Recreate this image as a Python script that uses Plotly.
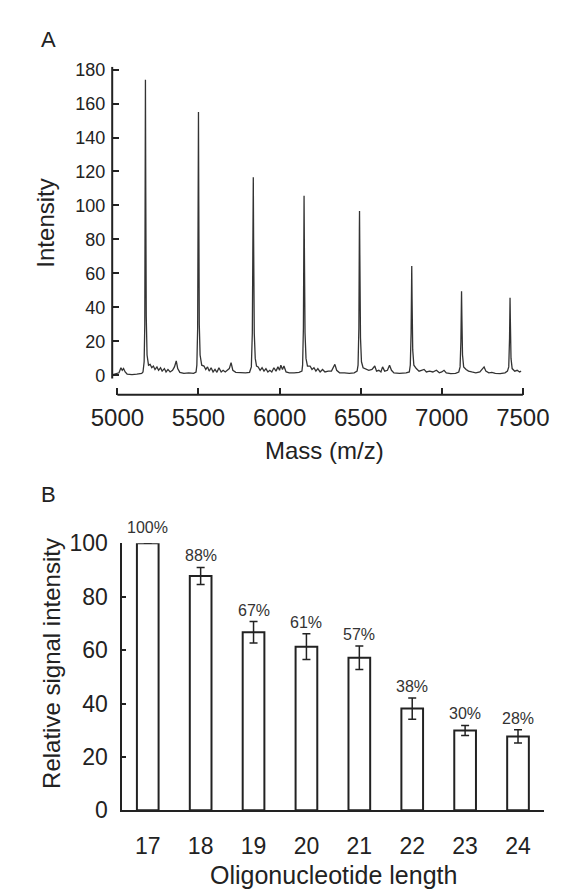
import plotly.graph_objects as go

W, H = 563, 894

# ---- panel A: MALDI spectrum ----
mass = [
    4972, 4990, 5010, 5022, 5030, 5038, 5048, 5060, 5090, 5120, 5150,
    5158, 5165, 5169, 5172, 5173, 5175, 5178, 5183, 5192,
    5202, 5212, 5222, 5232, 5244, 5254, 5266, 5276, 5290, 5300, 5312, 5325,
    5340, 5352, 5363, 5372, 5385, 5410, 5440, 5470, 5485,
    5490, 5495, 5498, 5500, 5502, 5505, 5510, 5520,
    5534, 5545, 5556, 5566, 5578, 5590, 5602, 5614, 5626, 5640, 5652, 5665,
    5690, 5701, 5712, 5730, 5760, 5790, 5815,
    5826, 5832, 5836, 5838, 5840, 5844, 5850, 5858,
    5868, 5880, 5892, 5904, 5916, 5928, 5940, 5952, 5965, 5978, 5990, 6000,
    6008, 6018, 6027, 6040, 6060, 6090, 6120, 6138,
    6142, 6147, 6150, 6151, 6153, 6157, 6163, 6172,
    6188, 6200, 6212, 6224, 6236, 6250, 6265, 6280, 6300, 6320, 6330, 6341,
    6352, 6370, 6400, 6430, 6460, 6478,
    6484, 6489, 6492, 6493, 6495, 6499, 6505, 6515,
    6530, 6550, 6570, 6587, 6598, 6612, 6625, 6635, 6648, 6665, 6678, 6690,
    6705, 6740, 6780, 6800,
    6806, 6811, 6814, 6815, 6817, 6821, 6828,
    6843, 6860, 6875, 6891, 6905, 6925, 6945, 6967, 6985, 7000, 7014, 7028,
    7055, 7085, 7105,
    7113, 7118, 7121, 7122, 7124, 7128, 7135,
    7150, 7165, 7185, 7210, 7235, 7250, 7261, 7272, 7290, 7309, 7330, 7360,
    7390, 7405,
    7413, 7418, 7420, 7421, 7423, 7427, 7434,
    7450, 7465, 7480, 7489,
]
intensity = [
    0.5, 1, 1.5, 4.5, 3, 4, 2, 0.8, 0.5, 0.8, 1.2,
    2, 8, 30, 120, 174, 110, 35, 12, 6,
    6.5, 4.5, 5.5, 3.5, 5, 3, 4.5, 2.5, 4, 2, 3.5, 2,
    3, 5, 8.5, 4, 1.8, 1.2, 1.5, 1.2, 2,
    6, 28, 105, 155, 100, 30, 12, 6,
    5.5, 3.5, 5, 2.5, 4.5, 2, 3.5, 1.8, 4.5, 2, 3, 2,
    4, 7.5, 3, 1.8, 1.5, 1.5, 1.8,
    5, 25, 85, 116.6, 80, 25, 10, 5.5,
    5, 3, 4.5, 2.5, 4, 2, 3, 2, 4.5, 2.5, 5, 3,
    6, 3.5, 5.5, 2, 1.5, 1.5, 1.8, 2.5,
    6, 28, 90, 105.7, 75, 25, 10, 5.5,
    5.5, 3.5, 4.5, 2.5, 4, 2, 3.5, 2, 2.5, 2.5, 4.5, 6.5,
    3, 1.5, 1.5, 1.2, 1.5, 2.5,
    6, 28, 85, 96.7, 70, 22, 8, 4.5,
    4, 3, 3.5, 5.5, 2.5, 3, 2, 5, 2.5, 3, 6, 3,
    1.5, 1.2, 1.5, 2,
    6, 25, 55, 64.4, 45, 15, 6,
    4, 2.5, 3, 3.5, 2, 2.5, 2, 3, 1.5, 2, 3, 1.5,
    1, 1.2, 2,
    5, 20, 42, 49.5, 35, 12, 5,
    3.5, 2.5, 2, 1.5, 2, 3.5, 5, 2.5, 1.5, 1.8, 1.2, 1,
    1.5, 2.5,
    5, 22, 40, 45.7, 32, 10, 4,
    2.5, 3, 2, 2.5,
]
mass_ticks = [5000, 5500, 6000, 6500, 7000, 7500]
intensity_ticks = [0, 20, 40, 60, 80, 100, 120, 140, 160, 180]

# ---- panel B: relative signal per oligo length ----
lengths = ["17", "18", "19", "20", "21", "22", "23", "24"]
rel_signal = [100, 87.8, 66.7, 61.3, 57.2, 38.1, 29.9, 27.7]
rel_err = [0, 3.2, 4.0, 4.8, 4.4, 4.0, 1.9, 2.5]
pct_labels = ["100%", "88%", "67%", "61%", "57%", "38%", "30%", "28%"]
rel_ticks = [0, 20, 40, 60, 80, 100]

INK = "#222222"
FONT = "Arial, Liberation Sans, sans-serif"


def px_x(p):
    return p / W


def px_y(p):
    return 1 - p / H


fig = go.Figure()

fig.add_trace(go.Scatter(
    x=mass, y=intensity, mode="lines",
    line=dict(color="#333333", width=1.3),
    xaxis="x", yaxis="y", hoverinfo="skip",
))

fig.add_trace(go.Bar(
    x=lengths, y=rel_signal, width=0.41,
    marker=dict(color="white", line=dict(color=INK, width=2)),
    error_y=dict(type="data", array=rel_err, thickness=1.5, width=4, color=INK),
    xaxis="x2", yaxis="y2",
))

tick_common = dict(showgrid=False, zeroline=False, tickcolor=INK, tickwidth=1.5)

fig.update_layout(
    width=W, height=H,
    margin=dict(l=0, r=0, t=0, b=0),
    paper_bgcolor="white", plot_bgcolor="white",
    showlegend=False,
    font=dict(family=FONT, color=INK),
    xaxis=dict(
        domain=[px_x(89), px_x(540)], range=[4968.1, 7536.4],
        tickvals=mass_ticks, ticks="inside", ticklen=7, showline=False,
        tickfont=dict(size=24), ticklabelstandoff=6, anchor="y", **tick_common,
    ),
    yaxis=dict(
        domain=[px_y(385), px_y(47)], range=[-11.43, 181.71],
        tickvals=intensity_ticks, ticks="inside", ticklen=7, showline=False,
        tickfont=dict(size=18), ticklabelstandoff=6, anchor="x", **tick_common,
    ),
    xaxis2=dict(
        domain=[px_x(100), px_x(557)], range=[-0.48, 7.5], type="category",
        ticks="", showline=True, linecolor=INK, linewidth=2,
        tickfont=dict(size=23), ticklabelstandoff=14, anchor="y2", **tick_common,
    ),
    yaxis2=dict(
        domain=[px_y(813), px_y(538)], range=[0, 100],
        tickvals=rel_ticks, ticks="inside", ticklen=4, showline=True,
        linecolor=INK, linewidth=2,
        tickfont=dict(size=23), ticklabelstandoff=8, anchor="x2", **tick_common,
    ),
)

# offset axis lines of the spectrum panel
fig.add_shape(type="line", xref="x domain", yref="y", x0=0, x1=0,
              y0=-1.9, y1=181.71, line=dict(color=INK, width=2))
fig.add_shape(type="line", xref="x", yref="y domain", x0=mass_ticks[0],
              x1=mass_ticks[-1], y0=0, y1=0, line=dict(color=INK, width=2))

# percentage labels above the bars (category index as x)
for i, (v, e, lab) in enumerate(zip(rel_signal, rel_err, pct_labels)):
    fig.add_annotation(x=i, y=v + e, xref="x2", yref="y2", text=lab,
                       showarrow=False, yanchor="bottom",
                       yshift=5 if e == 0 else 1,
                       font=dict(size=16, color="#333333"))


def label(text, x, y, size, angle=0):
    fig.add_annotation(x=px_x(x), y=px_y(y), xref="paper", yref="paper",
                       text=text, showarrow=False, textangle=angle,
                       xanchor="center", yanchor="middle",
                       font=dict(size=size, color=INK))


label("A", 20, 19, 22)
label("B", 20, 488, 22)
label("Intensity", 17, 208, 24, -90)
label("Mass (m/z)", 319, 442, 24)
label("Relative signal intensity", 24, 662, 24, -90)
label("Oligonucleotide length", 329, 880, 25)

fig.write_html("out.html")
